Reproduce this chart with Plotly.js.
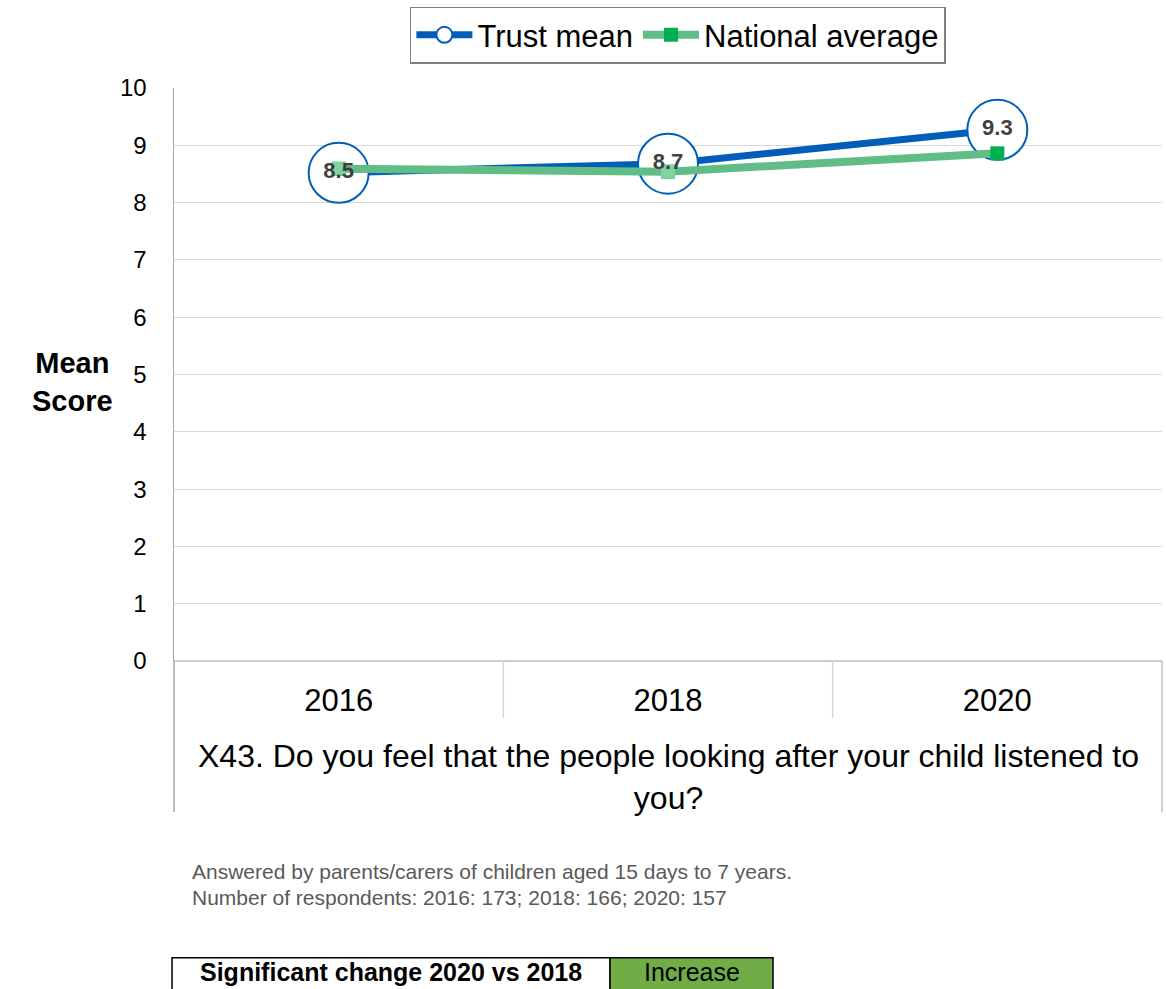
<!DOCTYPE html>
<html>
<head>
<meta charset="utf-8">
<script src="https://cdn.plot.ly/plotly-3.0.1.min.js"></script>
<style>html,body{margin:0;padding:0;background:#fff;}#chart{width:1166px;height:989px;}</style>
</head>
<body>
<div id="chart"></div>
<script>
// ---- data ----
const years = ["2016", "2018", "2020"];
const trustMean = [8.52, 8.68, 9.27];
const trustLabels = ["8.5", "8.7", "9.3"];
const nationalAvg = [8.59, 8.54, 8.86];
const yTicks = [0, 1, 2, 3, 4, 5, 6, 7, 8, 9, 10];
const questionText = "X43. Do you feel that the people looking after your child listened to<br>you?";
const footnoteLines = ["Answered by parents/carers of children aged 15 days to 7 years.", "Number of respondents: 2016: 173; 2018: 166; 2020: 157"];
const changeLabel = "Significant change 2020 vs 2018";
const changeValue = "Increase";

const FONT = "Arial, 'Liberation Sans', sans-serif";
const BLUE = "#005eb8";
const GREEN_LINE = "#5fbd85";

// earlier points of the national series are shown with a paler marker
const coveredYears = years.slice(0, 2);
const coveredNational = nationalAvg.slice(0, 2);

const traces = [
  {
    x: years, y: trustMean, name: "Trust mean", type: "scatter", mode: "lines+markers",
    line: {color: BLUE, width: 7},
    marker: {symbol: "circle", size: 60, color: "#ffffff", line: {color: BLUE, width: 2}},
    hoverinfo: "skip"
  },
  {
    x: years, y: nationalAvg, name: "National average", type: "scatter", mode: "lines+markers",
    line: {color: GREEN_LINE, width: 8},
    marker: {symbol: "square", size: 14, color: "#00b050"},
    hoverinfo: "skip"
  },
  {
    x: coveredYears, y: coveredNational, type: "scatter", mode: "markers", showlegend: false,
    marker: {symbol: "square", size: 14, color: "#80d4a2"}, hoverinfo: "skip"
  },
  {
    x: years, y: trustMean, text: trustLabels, type: "scatter", mode: "text",
    textposition: "middle center", showlegend: false, hoverinfo: "skip",
    textfont: {family: FONT, size: 22, color: "#404040", weight: "bold"}
  }
];

const layout = {
  width: 1166, height: 989,
  margin: {l: 174, r: 4, t: 88, b: 328},
  paper_bgcolor: "#ffffff", plot_bgcolor: "#ffffff",
  font: {family: FONT, color: "#000000"},
  showlegend: true,
  legend: {
    orientation: "h", x: 0.51, xanchor: "center", y: 1.142, yanchor: "top",
    bordercolor: "#808080", borderwidth: 1.5, bgcolor: "#ffffff",
    font: {family: FONT, size: 31, color: "#000000"},
    itemwidth: 56, tracegroupgap: 0
  },
  xaxis: {
    type: "category", range: [-0.5, 2.5], showgrid: false, zeroline: false,
    showline: false, ticks: "", tickfont: {family: FONT, size: 31, color: "#000000"},
    ticklabelstandoff: 18, fixedrange: true
  },
  yaxis: {
    range: [0, 10], tickvals: yTicks, showgrid: true, gridcolor: "#d9d9d9", gridwidth: 1,
    zeroline: false, showline: true, linecolor: "#a6a6a6", linewidth: 1.5, ticks: "",
    tickfont: {family: FONT, size: 24, color: "#000000"}, ticklabelstandoff: 21, fixedrange: true
  },
  shapes: [
    {type: "line", xref: "paper", yref: "paper", x0: 0, x1: 1, y0: 0, y1: 0, line: {color: "#bfbfbf", width: 1.5}},
    {type: "line", xref: "paper", yref: "paper", x0: 0, x1: 0, y0: 0, y1: -0.2635, line: {color: "#a6a6a6", width: 1.5}},
    {type: "line", xref: "paper", yref: "paper", x0: 1, x1: 1, y0: 0, y1: -0.2635, line: {color: "#bfbfbf", width: 1.5}},
    {type: "line", xref: "x", yref: "paper", x0: 0.5, x1: 0.5, y0: 0, y1: -0.0995, line: {color: "#d9d9d9", width: 1.5}},
    {type: "line", xref: "x", yref: "paper", x0: 1.5, x1: 1.5, y0: 0, y1: -0.0995, line: {color: "#d9d9d9", width: 1.5}},
    {type: "rect", xref: "paper", yref: "paper", x0: -0.002, x1: 0.4413, y0: -0.518, y1: -0.6, fillcolor: "#ffffff", line: {color: "#000000", width: 1.5}},
    {type: "rect", xref: "paper", yref: "paper", x0: 0.4413, x1: 0.6063, y0: -0.518, y1: -0.6, fillcolor: "#70ad47", line: {color: "#000000", width: 1.5}}
  ],
  annotations: [
    {text: "<b>Mean<br>Score</b>", xref: "paper", yref: "paper", x: -0.103, y: 0.487, xanchor: "center", yanchor: "middle",
     showarrow: false, font: {family: FONT, size: 29, color: "#000000"}, align: "center"},
    {text: questionText, xref: "paper", yref: "paper", x: 0.5, y: -0.131, xanchor: "center", yanchor: "top",
     showarrow: false, font: {family: FONT, size: 32, color: "#000000"}, align: "center"},
    {text: footnoteLines[0], xref: "paper", yref: "paper", x: 0.0162, y: -0.3682, xanchor: "left", yanchor: "middle",
     showarrow: false, font: {family: FONT, size: 21, color: "#595959"}, align: "left"},
    {text: footnoteLines[1], xref: "paper", yref: "paper", x: 0.0162, y: -0.4119, xanchor: "left", yanchor: "middle",
     showarrow: false, font: {family: FONT, size: 21, color: "#595959"}, align: "left"},
    {text: "<b>" + changeLabel + "</b>", xref: "paper", yref: "paper", x: 0.2197, y: -0.543, xanchor: "center", yanchor: "middle",
     showarrow: false, font: {family: FONT, size: 25, color: "#000000"}},
    {text: changeValue, xref: "paper", yref: "paper", x: 0.5238, y: -0.543, xanchor: "center", yanchor: "middle",
     showarrow: false, font: {family: FONT, size: 25, color: "#000000"}}
  ]
};

Plotly.newPlot("chart", traces, layout, {displayModeBar: false, staticPlot: true});
</script>
</body>
</html>
